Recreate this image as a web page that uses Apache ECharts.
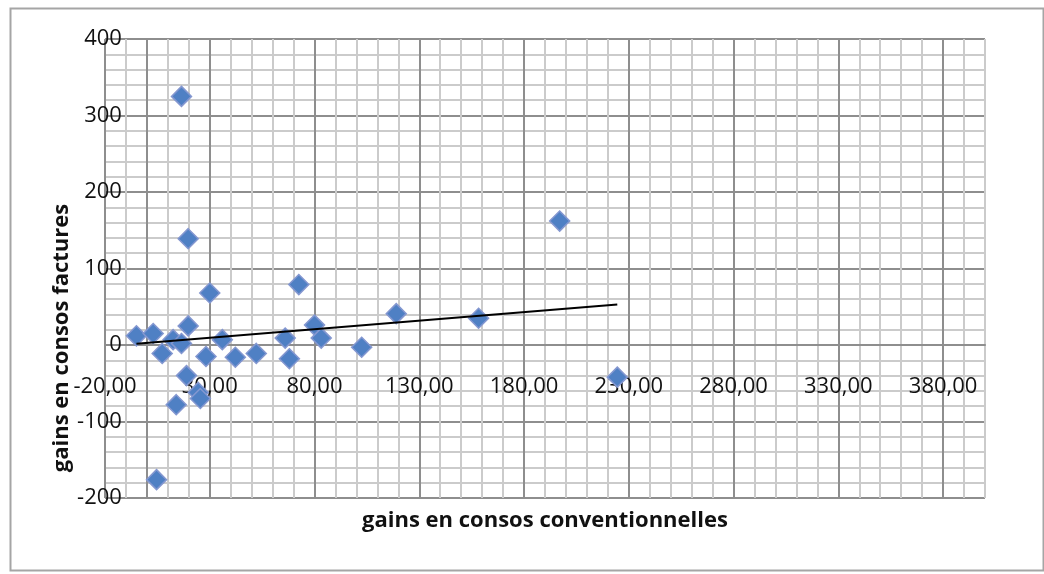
<!DOCTYPE html>
<html>
<head>
<meta charset="utf-8">
<script src="https://cdn.jsdelivr.net/npm/echarts@6/dist/echarts.min.js"></script>
<style>
  html, body { margin: 0; padding: 0; background: #fff; }
  #chart { width: 1044px; height: 574px; }
</style>
</head>
<body>
<div id="chart"></div>
<script>
// Gains per site: conventional consumption (x) vs invoiced consumption (y)
const gainsConventionnelles = [
  -5, 3, 7.3, 12.5, 16.5, 19.7, 16.5, 19.7, 18.9, 14, 24.5, 25.5, 4.6, 28.2,
  30, 36, 42.2, 52.2, 66, 68, 72.5, 80, 83.2, 102.5, 119, 158.3, 197, 224.5
];
const gainsFactures = [
  12, 15, -11, 7, 2, 25, 325, 139, -40, -78, -62, -70, -176, -15,
  68, 7, -16, -11, 9, -18, 79, 26, 9, -3, 41, 35, 162, -42
];

// Axis ranges, labelled steps and grid steps
const xRange = [-20, 400];
const yRange = [-200, 400];
const xMajor = 50, xMinor = 10;
const yMajor = 100, yMinor = 20;

const xTitle = 'gains en consos conventionnelles';
const yTitle = 'gains en consos factures';

const points = gainsConventionnelles.map((x, i) => [x, gainsFactures[i]]);

// Linear least-squares trend over the points
function linearTrend(xs, ys) {
  const n = xs.length;
  const mx = xs.reduce((a, b) => a + b, 0) / n;
  const my = ys.reduce((a, b) => a + b, 0) / n;
  let sxy = 0, sxx = 0;
  for (let i = 0; i < n; i++) {
    sxy += (xs[i] - mx) * (ys[i] - my);
    sxx += (xs[i] - mx) * (xs[i] - mx);
  }
  const slope = sxy / sxx;
  const icpt = my - slope * mx;
  const x0 = Math.min(...xs), x1 = Math.max(...xs);
  return [[x0, icpt + slope * x0], [x1, icpt + slope * x1]];
}
const trend = linearTrend(gainsConventionnelles, gainsFactures);

const FONT = '"Open Sans", "Noto Sans", sans-serif';
const MAJOR = '#8e8e8e';
const MINOR = '#cbcbcb';

// One grid line in every (major / minor) is a major one, starting at the axis minimum
function gridColors(major, minor) {
  const k = Math.round(major / minor);
  const out = [MAJOR];
  for (let i = 1; i < k; i++) out.push(MINOR);
  return out;
}
const isMajor = (v, min, major) => Math.abs(((v - min) / major) - Math.round((v - min) / major)) < 1e-6;

const chart = echarts.init(document.getElementById('chart'), null, { renderer: 'canvas' });

chart.setOption({
  animation: false,
  backgroundColor: '#ffffff',
  grid: { left: 105, right: 59, top: 39, bottom: 76, containLabel: false },
  xAxis: {
    type: 'value', min: xRange[0], max: xRange[1], interval: xMinor, position: 'bottom',
    axisLine: { show: true, onZero: false, lineStyle: { color: MAJOR, width: 2 } },
    axisTick: { show: false },
    axisLabel: {
      margin: 31, fontSize: 22, fontFamily: FONT, color: '#111',
      formatter: v => isMajor(v, xRange[0], xMajor) ? v.toFixed(2).replace('.', ',') : ''
    },
    splitLine: { show: true, lineStyle: { color: gridColors(xMajor, xMinor), width: 2 } }
  },
  yAxis: {
    type: 'value', min: yRange[0], max: yRange[1], interval: yMinor, position: 'left',
    axisLine: { show: true, onZero: false, lineStyle: { color: MAJOR, width: 2 } },
    axisTick: { show: false },
    axisLabel: {
      margin: 25, fontSize: 22, fontFamily: FONT, color: '#111',
      formatter: v => isMajor(v, yRange[0], yMajor) ? String(v) : ''
    },
    splitLine: { show: true, lineStyle: { color: gridColors(yMajor, yMinor), width: 2 } }
  },
  series: [
    {
      type: 'scatter', z: 3,
      symbol: 'diamond', symbolSize: 20,
      itemStyle: { color: '#4f80c4', borderColor: '#8497d0', borderWidth: 1.5, opacity: 1 },
      data: points
    },
    {
      type: 'line', z: 4,
      showSymbol: false, symbol: 'none',
      lineStyle: { color: '#000', width: 2 },
      data: trend
    }
  ],
  graphic: [
    {
      type: 'rect', left: 8, top: 6, z: -10, silent: true,
      shape: { width: 1033, height: 562 },
      style: { fill: 'none', stroke: '#a5a5a5', lineWidth: 2 }
    },
    {
      type: 'text', x: 545, y: 521, z: 10,
      style: {
        text: xTitle, fontSize: 22, fontWeight: 'bold', fontFamily: FONT,
        fill: '#111', textAlign: 'center', textVerticalAlign: 'middle'
      }
    },
    {
      type: 'text', x: 62, y: 338, rotation: Math.PI / 2, z: 10,
      style: {
        text: yTitle, fontSize: 22, fontWeight: 'bold', fontFamily: FONT,
        fill: '#111', textAlign: 'center', textVerticalAlign: 'middle'
      }
    }
  ]
});

// Both axes cross at the origin: shift each one from the plot edge onto the other's zero
const corner = chart.convertToPixel({ gridIndex: 0 }, [xRange[0], yRange[0]]);
const origin = chart.convertToPixel({ gridIndex: 0 }, [0, 0]);
chart.setOption({
  xAxis: { offset: -(corner[1] - origin[1]) },
  yAxis: { offset: -(origin[0] - corner[0]) }
});
</script>
</body>
</html>
